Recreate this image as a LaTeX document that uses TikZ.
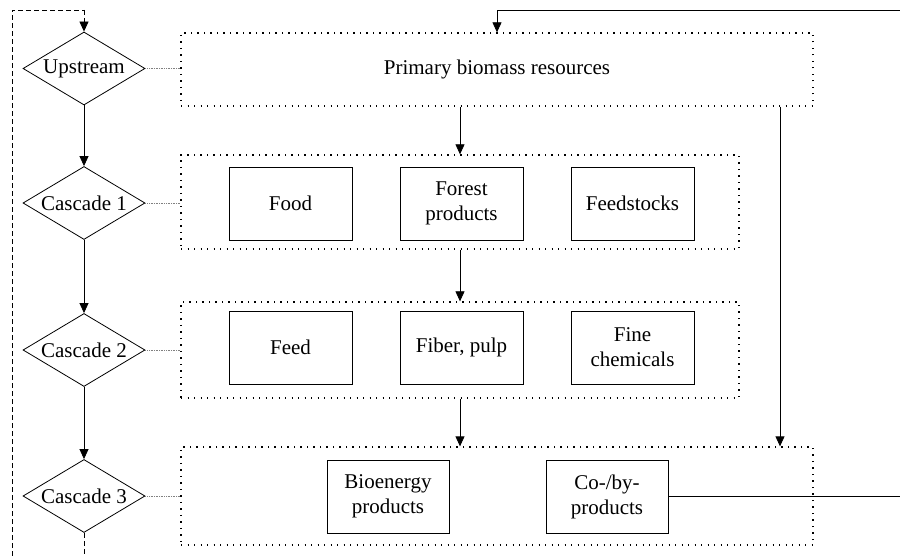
\documentclass[tikz,border=0pt]{standalone}
\usepackage{fontspec}
\setmainfont{Liberation Serif}
\usetikzlibrary{shapes.geometric,arrows.meta}
\begin{document}
\begin{tikzpicture}[x=1pt,y=-1pt,
  font=\fontsize{21}{25}\selectfont,
  line width=0.8pt,
  arr/.style={-{Triangle[length=10pt,width=9pt]}},
  stage/.style={draw, shape=diamond, aspect=1.66, inner sep=0pt,
    minimum width=122pt, minimum height=73pt},
  group/.style={draw, line width=1.3pt, dash pattern=on 1.3pt off 5.2pt},
  item/.style={draw, minimum width=123pt, minimum height=73pt, align=center,
    inner sep=2pt},
  link/.style={draw=gray, line width=0.7pt, densely dotted},
  loop/.style={dash pattern=on 5pt off 3pt}]
\useasboundingbox (0,0) rectangle (900,556);

% stages on the left
\node[stage] (d0) at (84,68.5) {Upstream};
\node[stage] (d1) at (84,203) {Cascade 1};
\node[stage] (d2) at (84,350) {Cascade 2};
\node[stage] (d3) at (84,496) {Cascade 3};

% dotted groups
\node[group, minimum width=632pt, minimum height=73pt] (g0) at (497,69.5) {Primary biomass resources};
\node[group, minimum width=558pt, minimum height=94pt] (g1) at (460,202) {};
\node[group, minimum width=558pt, minimum height=96pt] (g2) at (460,350) {};
\node[group, minimum width=632pt, minimum height=98pt] (g3) at (497,496) {};

% products
\node[item] (food) at (290.5,203.5) {Food};
\node[item] (forest) at (461.5,203.5) {Forest\\products};
\node[item] (feedst) at (632.5,203.5) {Feedstocks};
\node[item] (feed) at (290.5,347.5) {Feed};
\node[item] (fiber) at (461.5,347.5) {Fiber, pulp};
\node[item] (fine) at (632.5,347.5) {Fine\\chemicals};
\node[item, minimum width=122pt] (bio) at (388,496.5) {Bioenergy\\products};
\node[item, minimum width=122pt] (coby) at (607,496.5) {Co-/by-\\products};

% stage to group links
\draw[link] (d0.east) -- (d0.east -| g0.west);
\draw[link] (d1.east) -- (d1.east -| g1.west);
\draw[link] (d2.east) -- (d2.east -| g2.west);
\draw[link] (d3.east) -- (d3.east -| g3.west);

% stage sequence
\draw[arr] (d0.south) -- (d1.north);
\draw[arr] (d1.south) -- (d2.north);
\draw[arr] (d2.south) -- (d3.north);

% flows between groups
\draw[arr] (g0.south -| g1.north) -- (g1.north);
\draw[arr] (g1.south) -- (g2.north);
\draw[arr] (g2.south) -- (g2.south |- g3.north);
\coordinate (rx) at (780,0);
\draw[arr] (g0.south -| rx) -- (g3.north -| rx);

% recycling of co-/by-products
\coordinate (topright) at (900,10);
\coordinate (byend) at (900,0);
\draw[arr] (topright) -| (g0.north);
\draw (coby.east) -- (coby.east -| byend);

% dashed feedback loop
\coordinate (loopbot) at (12,556);
\coordinate (looptop) at (84,10);
\draw[loop] (d3.south) -- (d3.south |- loopbot);
\draw[loop] (loopbot) |- (looptop);
\draw[loop, arr] (looptop) -- (d0.north);
\end{tikzpicture}
\end{document}
